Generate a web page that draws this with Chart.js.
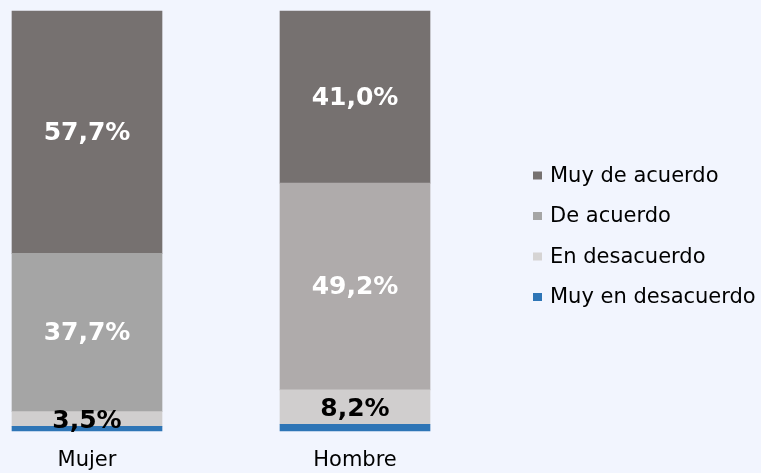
<!DOCTYPE html>
<html>
<head>
<meta charset="utf-8">
<script src="https://cdn.jsdelivr.net/npm/chart.js@4.4.1/dist/chart.umd.min.js"></script>
<style>
    html, body { margin: 0; padding: 0; background: #f2f5fe; }
    #wrap { width: 761px; height: 473px; }
</style>
</head>
<body>
<div id="wrap"><canvas id="myChart" width="761" height="473"></canvas></div>
<script>
(function(){
    'use strict';

    const categories = ['Mujer', 'Hombre'];
    const seriesNames = ['Muy en desacuerdo', 'En desacuerdo', 'De acuerdo', 'Muy de acuerdo'];
    const muyEnDesacuerdo = [1.1, 1.6];
    const enDesacuerdo = [3.5, 8.2];
    const deAcuerdo = [37.7, 49.2];
    const muyDeAcuerdo = [57.7, 41.0];

    const ctx = document.querySelector('#myChart');
    const fontFamily = '"DejaVu Sans", Verdana, sans-serif';

    function formatPct(v){
        return v.toFixed(1).replace('.', ',') + '%';
    }

    //labels inside the segments (blue one has none)
    const segmentLabels = {
        id: 'segmentLabels',
        afterDatasetsDraw(chart){
            const c = chart.ctx;
            c.save();
            c.font = 'bold 25px ' + fontFamily;
            c.textAlign = 'center';
            c.textBaseline = 'middle';
            chart.data.datasets.forEach(function(ds, i){
                if (i === 0) return;
                const meta = chart.getDatasetMeta(i);
                meta.data.forEach(function(bar, j){
                    c.fillStyle = i === 1 ? '#000000' : '#ffffff';
                    const y = (bar.y + bar.base) / 2 + (i === 1 ? 2 : 1);
                    c.fillText(formatPct(ds.data[j]), bar.x, y);
                });
            });
            c.restore();
        }
    };

    //legend on the right, top item is the last series
    const sideLegend = {
        id: 'sideLegend',
        afterDraw(chart){
            const c = chart.ctx;
            c.save();
            c.font = '21px ' + fontFamily;
            c.textBaseline = 'middle';
            c.textAlign = 'left';
            const items = chart.data.datasets.slice().reverse();
            items.forEach(function(ds, i){
                const y = 175.5 + i * 40.5;
                c.fillStyle = ds.legendColor;
                c.fillRect(533, y - 4, 9, 8);
                c.fillStyle = '#000000';
                c.fillText(ds.label, 550, y + 1);
            });
            c.restore();
        }
    };

    new Chart(ctx, {
        type: 'bar',
        data: {
            labels: categories,
            datasets: [
                {
                    label: seriesNames[0],
                    data: muyEnDesacuerdo,
                    backgroundColor: '#2e75b6',
                    legendColor: '#2e75b6'
                },
                {
                    label: seriesNames[1],
                    data: enDesacuerdo,
                    backgroundColor: '#d0cece',
                    legendColor: '#d6d4d4'
                },
                {
                    label: seriesNames[2],
                    data: deAcuerdo,
                    backgroundColor: ['#a5a5a5', '#afabab'],
                    legendColor: '#a5a5a5'
                },
                {
                    label: seriesNames[3],
                    data: muyDeAcuerdo,
                    backgroundColor: '#767170',
                    legendColor: '#767170'
                }
            ]
        },
        options: {
            responsive: false,
            animation: false,
            barThickness: 150,
            clip: false,
            layout: {
                padding: { left: 87, right: 406, top: 11, bottom: 0 }
            },
            plugins: {
                legend: { display: false },
                tooltip: { enabled: false }
            },
            scales: {
                x: {
                    stacked: true,
                    offset: false,
                    grid: { display: false, drawTicks: false },
                    border: { display: false },
                    afterFit: function(scale){ scale.height = 42; },
                    ticks: {
                        color: '#000000',
                        padding: 17,
                        font: { family: fontFamily, size: 21 }
                    }
                },
                y: {
                    stacked: true,
                    display: false,
                    min: 0,
                    max: 100
                }
            }
        },
        plugins: [segmentLabels, sideLegend]
    });
})();
</script>
</body>
</html>
